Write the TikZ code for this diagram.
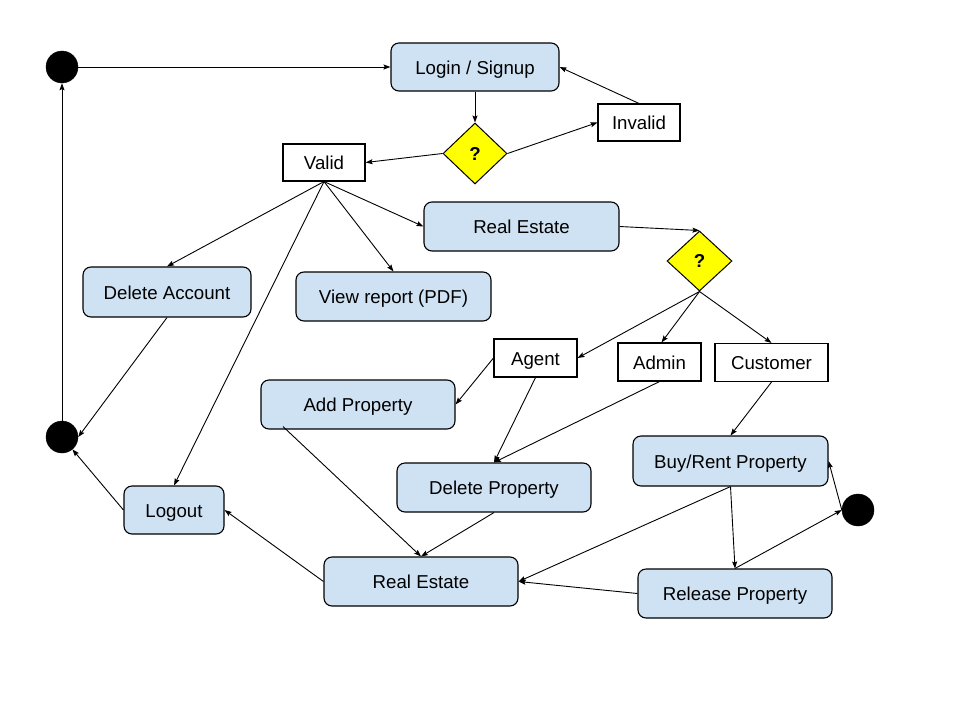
\documentclass[tikz,border=0pt]{standalone}
\usepackage{fontspec}
\setmainfont{Liberation Sans}
\usetikzlibrary{shapes.geometric,arrows.meta}
\definecolor{boxblue}{HTML}{CFE2F3}
\definecolor{qyellow}{HTML}{FFFF00}
\begin{document}
\begin{tikzpicture}[x=1pt,y=-1pt,
  every node/.style={font=\fontsize{18.67}{22}\selectfont, inner sep=0pt},
  txt/.style={text height=14.5pt, text depth=0pt},
  state/.style={txt, draw=black, line width=1.1pt, rounded corners=8pt, fill=boxblue},
  plainbox/.style={txt, draw=black, line width=1.1pt, fill=white},
  decide/.style={diamond, draw=black, line width=1pt, fill=qyellow, font=\bfseries\fontsize{18.67}{22}\selectfont},
  term/.style={circle, fill=black, draw=black, minimum size=32pt},
  conn/.style={draw=black, line width=0.9pt, -{Stealth[length=7pt,width=5pt,inset=1.2pt]}}
]
\useasboundingbox (0,0) rectangle (960,720);
\fill[white] (0,0) rectangle (960,720);

\node[term] (dot1) at (62,67) {};
\node[state, minimum width=168pt, minimum height=48pt] (login) at (475,67) {Login / Signup};
\node[decide, minimum width=64pt, minimum height=61pt] (d1) at (475,153.5) {?};
\node[plainbox, minimum width=82pt, minimum height=37pt] (invalid) at (639,122.5) {Invalid};
\node[plainbox, minimum width=82pt, minimum height=37pt] (valid) at (324,162.5) {Valid};
\node[state, minimum width=195pt, minimum height=49pt] (re1) at (521.5,226.5) {Real Estate};
\node[decide, minimum width=65pt, minimum height=60pt] (d2) at (699.5,261) {?};
\node[state, minimum width=168pt, minimum height=50pt] (delacc) at (167,292) {Delete Account};
\node[state, minimum width=195pt, minimum height=49pt] (view) at (393.5,296.5) {View report (PDF)};
\node[plainbox, minimum width=83pt, minimum height=38pt] (agent) at (535.5,358) {Agent};
\node[plainbox, minimum width=83pt, minimum height=38pt] (admin) at (659.5,362) {Admin};
\node[plainbox, minimum width=113pt, minimum height=38pt] (customer) at (771.5,362.5) {Customer};
\node[state, minimum width=194pt, minimum height=49pt] (addprop) at (358,404.5) {Add Property};
\node[term] (dot2) at (62,437) {};
\node[state, minimum width=194pt, minimum height=49pt] (delprop) at (494,487.5) {Delete Property};
\node[state, minimum width=195pt, minimum height=50pt] (buyrent) at (730.5,461) {Buy/Rent Property};
\node[term] (dot3) at (858,510) {};
\node[state, minimum width=100pt, minimum height=48pt] (logout) at (174,510) {Logout};
\node[state, minimum width=194pt, minimum height=49pt] (re2) at (421,581.5) {Real Estate};
\node[state, minimum width=194pt, minimum height=49pt] (release) at (735,593.5) {Release Property};

\draw[conn] (dot1.east) -- (login.west);
\draw[conn] (login.south) -- (d1.north);
\draw[conn] (d1.west) -- (valid.east);
\draw[conn] (d1.east) -- (invalid.west);
\draw[conn] (invalid.north) -- (login.east);
\draw[conn] (valid.south) -- (delacc.north);
\draw[conn] (valid.south) -- (view.north);
\draw[conn] (valid.south) -- (re1.west);
\draw[conn] (valid.south) -- (logout.north);
\draw[conn] (delacc.south) -- (dot2.east);
\draw[conn] (dot2.north) -- (dot1.south);
\draw[conn] (logout.west) -- (dot2);
\draw[conn] (re1.east) -- (d2.north);
\draw[conn] (d2.south) -- (agent.east);
\draw[conn] (d2.south) -- ([xshift=2pt]admin.north);
\draw[conn] (d2.south) -- (customer.north);
\draw[conn] (agent.west) -- (addprop.east);
\draw[conn] (agent.south) -- (delprop.north);
\draw[conn] (admin.south) -- (delprop.north);
\draw[conn] (customer.south) -- (buyrent.north);
\draw[conn] ([xshift=-75pt,yshift=3pt]addprop.south) -- (re2.north);
\draw[conn] (delprop.south) -- (re2.north);
\draw[conn] (re2.west) -- (logout.east);
\draw[conn] (buyrent.south) -- (re2.east);
\draw[conn] (buyrent.south) -- (release.north);
\draw[conn] (release.north) -- (dot3.west);
\draw[conn] (dot3.west) -- (buyrent.east);
\draw[conn] (release.west) -- (re2.east);
\end{tikzpicture}
\end{document}
